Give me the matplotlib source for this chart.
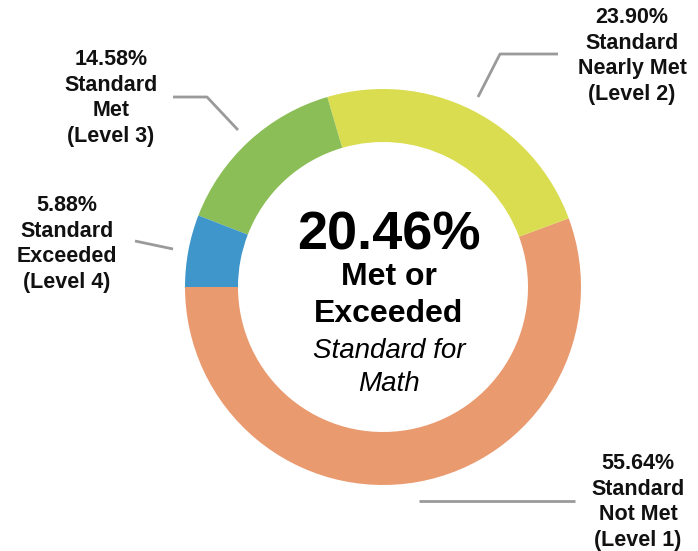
import matplotlib.pyplot as plt

# shares of students by achievement level (Math)
levels = ['Not Met', 'Nearly Met', 'Met', 'Exceeded']
level_nums = [1, 2, 3, 4]
shares = [55.64, 23.90, 14.58, 5.88]
colors = ['#EA9A6F', '#D9DD4F', '#8BBE56', '#3E96CB']

W, H = 698, 551
fig = plt.figure(figsize=(W / 100, H / 100), dpi=100)
ax = fig.add_axes([0, 0, 1, 1])
ax.set_xlim(0, W)
ax.set_ylim(0, H)
ax.set_aspect('equal')
ax.axis('off')


def py(y):
    # pixel row (from top) -> data y
    return H - y


cx, cy, r = 383, py(287), 198
ax.pie(shares, colors=colors, startangle=180, counterclock=True,
       center=(cx, cy), radius=r,
       wedgeprops=dict(width=53, linewidth=0))
ax.set_xlim(0, W)
ax.set_ylim(0, H)

# leader lines
line_kw = dict(color='#9a9a9a', lw=2.0, solid_capstyle='butt')
ax.plot([419, 575], [py(501), py(501)], **line_kw)              # level 1
ax.plot([558, 500, 478], [py(54), py(54), py(97)], **line_kw)    # level 2
ax.plot([173, 207, 238], [py(97), py(97), py(130)], **line_kw)   # level 3
ax.plot([135, 173], [py(241), py(249)], **line_kw)               # level 4

# outer labels
label_pos = [(638, 502), (632, 56), (111, 98), (67, 244)]
font = 'Liberation Sans'
for share, name, n, (lx, ly) in zip(shares, levels, level_nums, label_pos):
    ax.text(lx, py(ly), f'{share:.2f}%\nStandard\n{name}\n(Level {n})',
            ha='center', va='center', fontsize=15.5, fontweight='bold',
            family=font, linespacing=1.28, color='#111111')

# center text
met_or_exceeded = shares[2] + shares[3]
tx = 389
ax.text(tx, py(249), f'{met_or_exceeded:.2f}%', ha='center', va='baseline',
        fontsize=39, fontweight='bold', family=font, color='black')
ax.text(tx, py(285), 'Met or', ha='center', va='baseline',
        fontsize=23, fontweight='bold', family=font, color='black')
ax.text(tx, py(322), 'Exceeded', ha='center', va='baseline',
        fontsize=23, fontweight='bold', family=font, color='black')
ax.text(tx, py(358), 'Standard for', ha='center', va='baseline',
        fontsize=20, style='italic', family=font, color='black')
ax.text(tx, py(391), 'Math', ha='center', va='baseline',
        fontsize=20, style='italic', family=font, color='black')

fig.savefig('out.png', dpi=100, facecolor='white')
